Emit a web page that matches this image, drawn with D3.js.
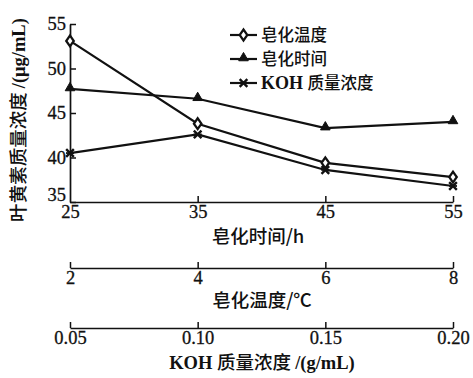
<!DOCTYPE html>
<html>
<head>
<meta charset="utf-8">
<script src="https://cdn.jsdelivr.net/npm/d3@7"></script>
<style>
  html, body { margin: 0; padding: 0; background: #fff; }
  svg { display: block; }
  text { fill: #111; }
</style>
</head>
<body>
<svg id="chart" width="473" height="378"></svg>
<script>
// Saponification time (h), main x axis
const timeTicks = [25, 35, 45, 55];
// Saponification temperature axis ticks
const tempTicks = [2, 4, 6, 8];
// KOH mass concentration axis ticks (g/mL)
const kohTicks = [0.05, 0.10, 0.15, 0.20];
const yTicks = [35, 40, 45, 50, 55];

// Lutein mass concentration (μg/mL) for each factor level
const seriesNames = ["皂化温度", "皂化时间", "KOH 质量浓度"];
const tempValues = [53.1, 43.8, 39.4, 37.8];
const timeValues = [47.7, 46.6, 43.3, 44.0];
const kohValues = [40.5, 42.6, 38.6, 36.8];

const svg = d3.select("#chart");
const serif = "'Liberation Serif', 'DejaVu Serif', serif";
const cjk = "'Noto Sans CJK SC', sans-serif";

const plotLeft = 70, plotRight = 453, plotTop = 24, plotBottom = 202;

const x = d3.scaleLinear().domain([25, 55]).range([plotLeft, plotRight]);
const xTemp = d3.scaleLinear().domain([2, 8]).range([plotLeft, plotRight]);
const xKoh = d3.scaleLinear().domain([0.05, 0.20]).range([plotLeft, plotRight]);
const y = d3.scaleLinear().domain([35, 55]).range([plotBottom, plotTop]);

function styleAxis(g) {
  g.selectAll(".domain").attr("stroke", "#111").attr("stroke-width", 1.7);
  g.selectAll(".tick line").attr("stroke", "#111").attr("stroke-width", 1.5);
  g.selectAll(".tick text").attr("font-family", serif).attr("font-size", 18.5)
    .attr("fill", "#111").attr("stroke", "#111").attr("stroke-width", 0.3);
}

// Y axis
const gy = svg.append("g").attr("transform", `translate(${plotLeft},0)`)
  .call(d3.axisLeft(y).tickValues(yTicks).tickSizeInner(-6).tickSizeOuter(0).tickPadding(4).tickFormat(d3.format("d")));
styleAxis(gy);
gy.selectAll(".tick").filter(d => d === 35).select("text").attr("dy", "-0.1em");

// Main x axis (time)
const gx = svg.append("g").attr("transform", `translate(0,${plotBottom})`)
  .call(d3.axisBottom(x).tickValues(timeTicks).tickSizeInner(-6).tickSizeOuter(0).tickPadding(3).tickFormat(d3.format("d")));
styleAxis(gx);
gx.selectAll(".tick").filter(d => d === 25).select("line").remove();

// Temperature axis
const gt = svg.append("g").attr("transform", `translate(0,268)`)
  .call(d3.axisBottom(xTemp).tickValues(tempTicks).tickSizeInner(-6).tickSizeOuter(0).tickPadding(3).tickFormat(d3.format("d")));
styleAxis(gt);

// KOH axis
const gk = svg.append("g").attr("transform", `translate(0,328)`)
  .call(d3.axisBottom(xKoh).tickValues(kohTicks).tickSizeInner(-6).tickSizeOuter(0).tickPadding(3).tickFormat(d3.format(".2f")));
styleAxis(gk);

// Axis titles
svg.append("text").attr("x", 258).attr("y", 243).attr("text-anchor", "middle")
  .attr("font-family", cjk).attr("font-weight", 500).attr("font-size", 18.5).text("皂化时间/h");
svg.append("text").attr("x", 262).attr("y", 307).attr("text-anchor", "middle")
  .attr("font-family", cjk).attr("font-weight", 500).attr("font-size", 18.5).text("皂化温度/℃");
const kohTitle = svg.append("text").attr("x", 262).attr("y", 369).attr("text-anchor", "middle")
  .attr("font-size", 18.5);
kohTitle.append("tspan").attr("font-family", serif).attr("font-weight", "bold").text("KOH ");
kohTitle.append("tspan").attr("font-family", cjk).attr("font-weight", 500).text("质量浓度 ");
kohTitle.append("tspan").attr("font-family", serif).attr("font-weight", "bold").text("/(g/mL)");

const yTitle = svg.append("text")
  .attr("transform", "translate(25,120) rotate(-90)")
  .attr("text-anchor", "middle").attr("font-size", 18.5);
yTitle.append("tspan").attr("font-family", cjk).attr("font-weight", 500).text("叶黄素质量浓度 ");
yTitle.append("tspan").attr("font-family", serif).attr("font-weight", "bold").text("/(μg/mL)");

// Series lines and markers
const line = d3.line().x((d, i) => x(timeTicks[i])).y(d => y(d));
const series = [
  { name: seriesNames[0], values: tempValues, marker: "diamond" },
  { name: seriesNames[1], values: timeValues, marker: "triangle" },
  { name: seriesNames[2], values: kohValues, marker: "cross" }
];

function drawMarker(g, type, cx, cy) {
  if (type === "diamond") {
    g.append("path").attr("d", d3.symbol(d3.symbolDiamond, 34)())
      .attr("transform", `translate(${cx},${cy}) scale(1.2,1)`)
      .attr("fill", "#fff").attr("stroke", "#111").attr("stroke-width", 2);
  } else if (type === "triangle") {
    g.append("path").attr("d", d3.symbol(d3.symbolTriangle, 40)())
      .attr("transform", `translate(${cx},${cy - 1})`)
      .attr("fill", "#111").attr("stroke", "#111").attr("stroke-width", 1);
  } else {
    g.append("path").attr("d", d3.symbol(d3.symbolX, 40)())
      .attr("transform", `translate(${cx},${cy})`)
      .attr("fill", "none").attr("stroke", "#111").attr("stroke-width", 2.4);
    g.append("path").attr("d", `M${-4},0H4`)
      .attr("transform", `translate(${cx},${cy})`)
      .attr("stroke", "#111").attr("stroke-width", 1.8);
  }
}

series.forEach(s => {
  svg.append("path").datum(s.values).attr("d", line)
    .attr("fill", "none").attr("stroke", "#111").attr("stroke-width", 2.2);
});
series.forEach(s => {
  const g = svg.append("g");
  s.values.forEach((v, i) => drawMarker(g, s.marker, x(timeTicks[i]), y(v)));
});

// Legend
const legendRows = [35, 59, 83];
series.forEach((s, i) => {
  const ly = legendRows[i];
  svg.append("line").attr("x1", 230).attr("x2", 257).attr("y1", ly).attr("y2", ly)
    .attr("stroke", "#111").attr("stroke-width", 2.2);
  drawMarker(svg.append("g"), s.marker, 243.5, ly);
  const t = svg.append("text").attr("x", 261).attr("y", ly + 6).attr("font-size", 16.5);
  if (i === 2) {
    t.append("tspan").attr("font-family", serif).attr("font-weight", "bold").attr("font-size", 18).text("KOH ");
    t.append("tspan").attr("font-family", cjk).attr("font-weight", 500).text("质量浓度");
  } else {
    t.attr("font-family", cjk).attr("font-weight", 500).text(s.name);
  }
});
</script>
</body>
</html>
